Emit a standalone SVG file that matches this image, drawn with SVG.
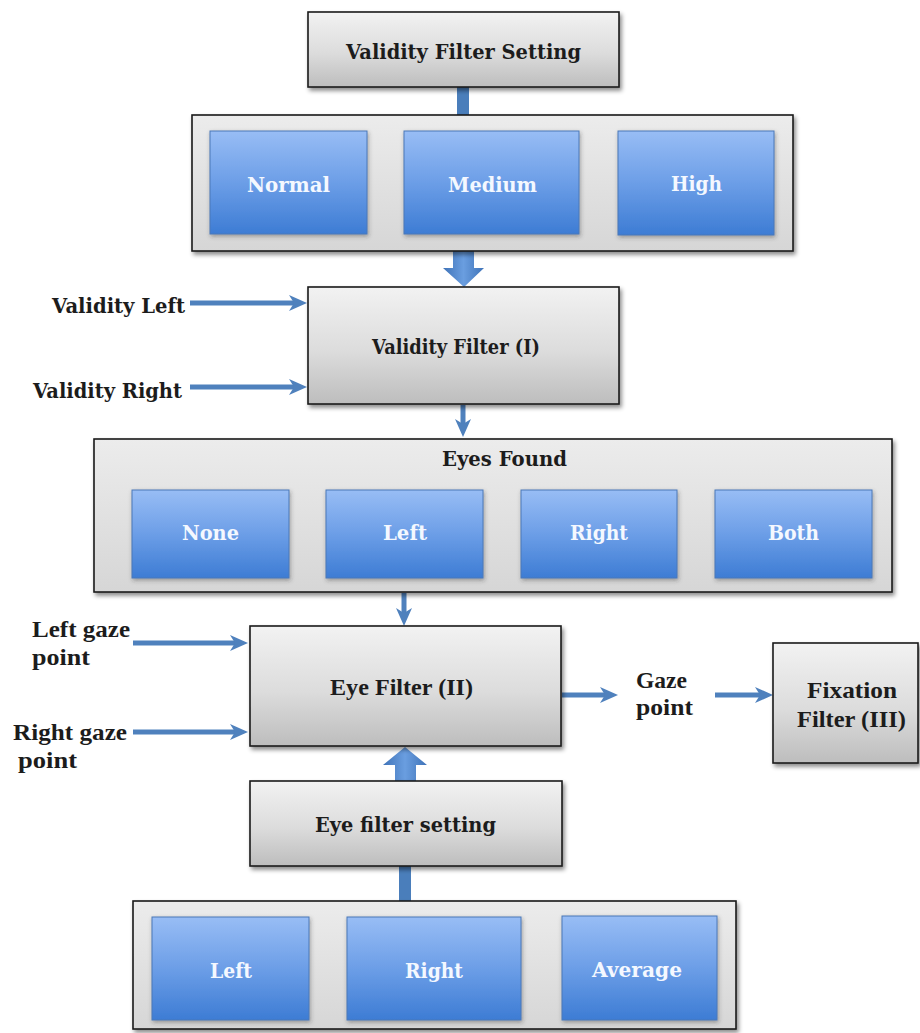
<svg xmlns="http://www.w3.org/2000/svg" width="920" height="1033" viewBox="0 0 920 1033">
  <defs>
    <linearGradient id="gGray" x1="0" y1="0" x2="0" y2="1">
      <stop offset="0" stop-color="#f2f2f2"/>
      <stop offset="0.55" stop-color="#dcdcdc"/>
      <stop offset="1" stop-color="#bdbdbd"/>
    </linearGradient>
    <linearGradient id="gPanel" x1="0" y1="0" x2="0" y2="1">
      <stop offset="0" stop-color="#ececec"/>
      <stop offset="1" stop-color="#d6d6d6"/>
    </linearGradient>
    <linearGradient id="gBlue" x1="0" y1="0" x2="0" y2="1">
      <stop offset="0" stop-color="#98bdf5"/>
      <stop offset="0.5" stop-color="#6c9ee7"/>
      <stop offset="1" stop-color="#3d7cd4"/>
    </linearGradient>
    <linearGradient id="gArrow" x1="0" y1="0" x2="1" y2="0">
      <stop offset="0" stop-color="#3f73b8"/>
      <stop offset="0.5" stop-color="#6a9ee0"/>
      <stop offset="1" stop-color="#3f73b8"/>
    </linearGradient>
    <filter id="shadow" x="-10%" y="-10%" width="125%" height="130%">
      <feDropShadow dx="2" dy="3" stdDeviation="2" flood-color="#000" flood-opacity="0.45"/>
    </filter>
    <filter id="softShadow" x="-10%" y="-10%" width="125%" height="130%">
      <feDropShadow dx="1" dy="2" stdDeviation="2" flood-color="#333" flood-opacity="0.4"/>
    </filter>
    <marker id="ah" markerUnits="userSpaceOnUse" markerWidth="18" markerHeight="18" refX="5" refY="9" orient="auto">
      <path d="M0,1 L18,9 L0,17 L5,9 z" fill="#4f81bd"/>
    </marker>
    <style>
      .box { fill: url(#gGray); stroke: #1a1a1a; stroke-width: 1.6; filter: url(#shadow); }
      .panel { fill: url(#gPanel); stroke: #1a1a1a; stroke-width: 1.6; filter: url(#shadow); }
      .opt { fill: url(#gBlue); stroke: #4a78b8; stroke-width: 1; filter: url(#softShadow); }
      .wire { stroke: #4f81bd; stroke-width: 5; fill: none; marker-end: url(#ah); }
      .bar { fill: #4a7ebb; }
      .block { fill: url(#gArrow); }
      .lbl { font-family: "DejaVu Serif", "Liberation Serif", serif; font-weight: bold; font-size: 21px; fill: #1c1c1c; }
      .cond { font-family: "Liberation Serif", "DejaVu Serif", serif; font-weight: bold; font-size: 23px; fill: #1c1c1c; }
      .opt-t { font-family: "DejaVu Serif", "Liberation Serif", serif; font-weight: bold; font-size: 20px; fill: #f4f8ff; }
    </style>
  </defs>

  <rect width="920" height="1033" fill="#ffffff"/>

  <!-- connectors -->
  <g id="connectors">
    <rect class="bar" x="457" y="87" width="12" height="29"/>
    <polygon class="block" points="453,251 474,251 474,268 484,268 464,287 443,268 453,268"/>
    <line class="wire" x1="190" y1="303" x2="294" y2="303"/>
    <line class="wire" x1="190" y1="387" x2="294" y2="387"/>
    <line class="wire" x1="463" y1="405" x2="463" y2="424"/>
    <line class="wire" x1="404" y1="593" x2="404" y2="613"/>
    <line class="wire" x1="133" y1="643" x2="235" y2="643"/>
    <line class="wire" x1="133" y1="732" x2="235" y2="732"/>
    <line class="wire" x1="562" y1="695" x2="605" y2="695"/>
    <line class="wire" x1="715" y1="695" x2="760" y2="695"/>
    <polygon class="block" points="405,747 427,765 416,765 416,781 395,781 395,765 383,765"/>
    <rect class="bar" x="399" y="866" width="12" height="36"/>
  </g>

  <!-- validity filter setting -->
  <g id="validity-setting">
    <rect class="box" x="308" y="12" width="311" height="75"/>
    <text class="lbl" x="346" y="59" textLength="235" lengthAdjust="spacingAndGlyphs">Validity Filter Setting</text>
  </g>

  <g id="validity-options">
    <rect class="panel" x="192" y="115" width="601" height="136"/>
    <g id="opt-normal">
      <rect class="opt" x="210" y="131" width="157" height="103"/>
      <text class="opt-t" x="247" y="192" textLength="83" lengthAdjust="spacingAndGlyphs">Normal</text>
    </g>
    <g id="opt-medium">
      <rect class="opt" x="404" y="131" width="175" height="103"/>
      <text class="opt-t" x="448" y="192" textLength="89" lengthAdjust="spacingAndGlyphs">Medium</text>
    </g>
    <g id="opt-high">
      <rect class="opt" x="618" y="131" width="156" height="104"/>
      <text class="opt-t" x="671" y="191" textLength="51" lengthAdjust="spacingAndGlyphs">High</text>
    </g>
  </g>

  <!-- validity filter -->
  <g id="validity-filter">
    <rect class="box" x="308" y="287" width="311" height="117"/>
    <text class="lbl" x="372" y="354" textLength="168" lengthAdjust="spacingAndGlyphs">Validity Filter (I)</text>
  </g>

  <g id="validity-inputs">
    <text class="lbl" x="52" y="313" textLength="133" lengthAdjust="spacingAndGlyphs">Validity Left</text>
    <text class="lbl" x="33" y="398" textLength="149" lengthAdjust="spacingAndGlyphs">Validity Right</text>
  </g>

  <!-- eyes found -->
  <g id="eyes-found">
    <rect class="panel" x="94" y="439" width="798" height="153"/>
    <text class="lbl" x="442" y="466" textLength="125" lengthAdjust="spacingAndGlyphs">Eyes Found</text>
    <g id="eyes-none">
      <rect class="opt" x="132" y="490" width="157" height="88"/>
      <text class="opt-t" x="182" y="540" textLength="57" lengthAdjust="spacingAndGlyphs">None</text>
    </g>
    <g id="eyes-left">
      <rect class="opt" x="326" y="490" width="157" height="88"/>
      <text class="opt-t" x="383" y="540" textLength="44" lengthAdjust="spacingAndGlyphs">Left</text>
    </g>
    <g id="eyes-right">
      <rect class="opt" x="521" y="490" width="156" height="88"/>
      <text class="opt-t" x="570" y="540" textLength="58" lengthAdjust="spacingAndGlyphs">Right</text>
    </g>
    <g id="eyes-both">
      <rect class="opt" x="715" y="490" width="157" height="88"/>
      <text class="opt-t" x="768" y="540" textLength="51" lengthAdjust="spacingAndGlyphs">Both</text>
    </g>
  </g>

  <!-- gaze inputs -->
  <g id="gaze-inputs">
    <text class="cond" x="32" y="637" textLength="98" lengthAdjust="spacingAndGlyphs">Left gaze</text>
    <text class="cond" x="32" y="665" textLength="58" lengthAdjust="spacingAndGlyphs">point</text>
    <text class="cond" x="13" y="740" textLength="114" lengthAdjust="spacingAndGlyphs">Right gaze</text>
    <text class="cond" x="18" y="768" textLength="59" lengthAdjust="spacingAndGlyphs">point</text>
  </g>

  <!-- eye filter -->
  <g id="eye-filter">
    <rect class="box" x="250" y="626" width="311" height="120"/>
    <text class="cond" x="330" y="695" textLength="143" lengthAdjust="spacingAndGlyphs">Eye Filter (II)</text>
  </g>

  <g id="gaze-output">
    <text class="cond" x="636" y="688" textLength="51" lengthAdjust="spacingAndGlyphs">Gaze</text>
    <text class="cond" x="636" y="715" textLength="57" lengthAdjust="spacingAndGlyphs">point</text>
  </g>

  <!-- fixation filter -->
  <g id="fixation-filter">
    <rect class="box" x="773" y="643" width="145" height="120"/>
    <text class="cond" x="807" y="698" textLength="90" lengthAdjust="spacingAndGlyphs">Fixation</text>
    <text class="cond" x="797" y="727" textLength="109" lengthAdjust="spacingAndGlyphs">Filter (III)</text>
  </g>

  <!-- eye filter setting -->
  <g id="eye-setting">
    <rect class="box" x="250" y="781" width="312" height="85"/>
    <text class="lbl" x="315" y="832" textLength="181" lengthAdjust="spacingAndGlyphs">Eye filter setting</text>
  </g>

  <g id="eye-options">
    <rect class="panel" x="133" y="901" width="603" height="128"/>
    <g id="eye-opt-left">
      <rect class="opt" x="152" y="917" width="157" height="103"/>
      <text class="opt-t" x="210" y="978" textLength="42" lengthAdjust="spacingAndGlyphs">Left</text>
    </g>
    <g id="eye-opt-right">
      <rect class="opt" x="347" y="917" width="174" height="103"/>
      <text class="opt-t" x="405" y="978" textLength="58" lengthAdjust="spacingAndGlyphs">Right</text>
    </g>
    <g id="eye-opt-average">
      <rect class="opt" x="562" y="916" width="155" height="104"/>
      <text class="opt-t" x="592" y="977" textLength="90" lengthAdjust="spacingAndGlyphs">Average</text>
    </g>
  </g>
</svg>
